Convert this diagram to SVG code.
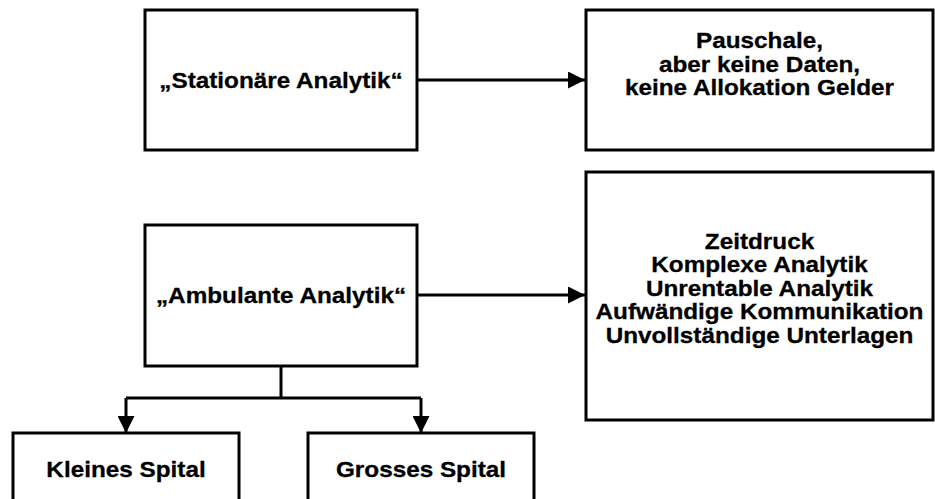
<svg xmlns="http://www.w3.org/2000/svg" width="935" height="499" viewBox="0 0 935 499">
<defs>
<style>
.box{fill:#fff;stroke:#000;stroke-width:3}
.t{font-family:"Liberation Sans",Arial,sans-serif;font-weight:bold;font-size:22.5px;fill:#000;text-anchor:middle;stroke:#000;stroke-width:0.3}
.c{fill:none;stroke:#000;stroke-width:3}
</style>
<marker id="ah" viewBox="0 0 10 10" refX="10" refY="5" markerWidth="17" markerHeight="17" markerUnits="userSpaceOnUse" orient="auto">
<path d="M0,0 L10,5 L0,10 Z" fill="#000"/>
</marker>
</defs>
<rect width="935" height="499" fill="#fff"/>
<g id="connectors">
<path class="c" d="M417,80 H585" marker-end="url(#ah)"/>
<path class="c" d="M417,295 H585" marker-end="url(#ah)"/>
<path class="c" d="M281,366 V398"/>
<path class="c" d="M126,398 H421"/>
<path class="c" d="M126,398 V433" marker-end="url(#ah)"/>
<path class="c" d="M421,398 V433" marker-end="url(#ah)"/>
</g>
<g id="stationaer">
<rect class="box" x="145" y="10" width="272" height="140"/>
<g transform="translate(281,0) scale(1.08,1)">
<text class="t" x="0" y="88">„Stationäre Analytik“</text>
</g>
</g>
<g id="pauschale">
<rect class="box" x="586" y="10" width="347" height="140"/>
<g transform="translate(759.5,0) scale(1.08,1)">
<text class="t" x="0" y="48.5">Pauschale,</text>
<text class="t" x="0" y="72">aber keine Daten,</text>
<text class="t" x="0" y="95.5">keine Allokation Gelder</text>
</g>
</g>
<g id="ambulant">
<rect class="box" x="145" y="225" width="272" height="141"/>
<g transform="translate(281,0) scale(1.08,1)">
<text class="t" x="0" y="303">„Ambulante Analytik“</text>
</g>
</g>
<g id="probleme">
<rect class="box" x="586" y="172" width="347" height="248"/>
<g transform="translate(759.5,0) scale(1.08,1)">
<text class="t" x="0" y="249">Zeitdruck</text>
<text class="t" x="0" y="272.5">Komplexe Analytik</text>
<text class="t" x="0" y="296">Unrentable Analytik</text>
<text class="t" x="0" y="319.5">Aufwändige Kommunikation</text>
<text class="t" x="0" y="343">Unvollständige Unterlagen</text>
</g>
</g>
<g id="klein">
<rect class="box" x="13" y="433" width="226" height="90"/>
<g transform="translate(126,0) scale(1.08,1)">
<text class="t" x="0" y="477">Kleines Spital</text>
</g>
</g>
<g id="gross">
<rect class="box" x="308" y="433" width="226" height="90"/>
<g transform="translate(421,0) scale(1.08,1)">
<text class="t" x="0" y="477">Grosses Spital</text>
</g>
</g>
</svg>
